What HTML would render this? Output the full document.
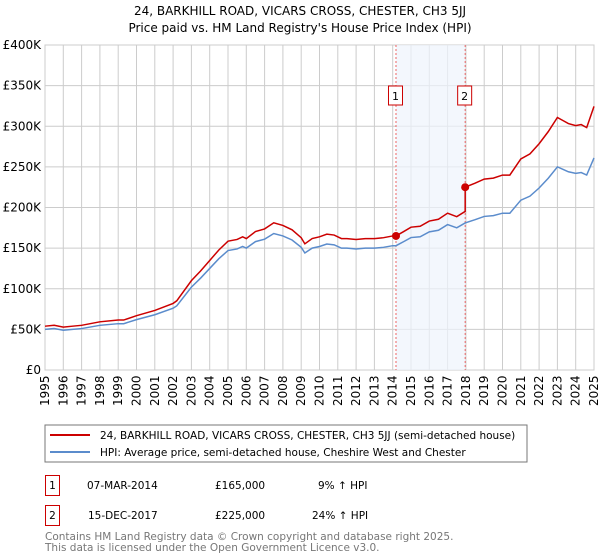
<!DOCTYPE html>
<html><head><meta charset="utf-8"><style>
body{margin:0;background:#fff;}
svg{display:block;font-family:"DejaVu Sans","Liberation Sans",sans-serif;}
</style></head><body>
<svg id="c" width="600" height="560" viewBox="0 0 600 560">
<text x="300" y="15" text-anchor="middle" font-size="12">24, BARKHILL ROAD, VICARS CROSS, CHESTER, CH3 5JJ</text>
<text x="300" y="32" text-anchor="middle" font-size="12">Price paid vs. HM Land Registry's House Price Index (HPI)</text>
<g id="grid"></g><g id="band"></g><g id="series"></g><g id="ticks"></g>
<rect x="45" y="425" width="482" height="37" fill="none" stroke="#777"/>
<line x1="50" y1="435" x2="90" y2="435" stroke="#cc0000" stroke-width="2"/>
<text x="100" y="439" font-size="10.5">24, BARKHILL ROAD, VICARS CROSS, CHESTER, CH3 5JJ (semi-detached house)</text>
<line x1="50" y1="452" x2="90" y2="452" stroke="#5b8ccc" stroke-width="2"/>
<text x="100" y="456" font-size="10.5">HPI: Average price, semi-detached house, Cheshire West and Chester</text>
<g>
<rect x="45.5" y="475.5" width="14" height="20" fill="#fff" stroke="#cc0000"/>
<text x="52.5" y="489" font-size="10.5" text-anchor="middle">1</text>
<text x="87" y="489" font-size="10.5">07-MAR-2014</text>
<text x="215" y="489" font-size="10.5">£165,000</text>
<text x="318" y="489" font-size="10.5">9% ↑ HPI</text></g>
<g>
<rect x="45.5" y="505.5" width="14" height="20" fill="#fff" stroke="#cc0000"/>
<text x="52.5" y="519" font-size="10.5" text-anchor="middle">2</text>
<text x="88" y="519" font-size="10.5">15-DEC-2017</text>
<text x="215" y="519" font-size="10.5">£225,000</text>
<text x="312" y="519" font-size="10.5">24% ↑ HPI</text></g>
<text x="45" y="540" font-size="10.5" fill="#777">Contains HM Land Registry data © Crown copyright and database right 2025.</text>
<text x="45" y="551" font-size="10.5" fill="#777">This data is licensed under the Open Government Licence v3.0.</text>
</svg>
<script>
const hpiYears=[1995,1995.5,1996,1996.5,1997,1998,1999,1999.3,2000,2001,2002,2002.2,2003,2003.5,2004,2004.5,2005,2005.5,2005.8,2006,2006.5,2007,2007.5,2008,2008.5,2009,2009.2,2009.6,2010,2010.4,2010.8,2011.2,2011.5,2012,2012.5,2013,2013.5,2014,2014.18,2014.6,2015,2015.5,2016,2016.5,2017,2017.5,2017.96,2018.5,2019,2019.5,2020,2020.4,2021,2021.5,2022,2022.5,2023,2023.3,2023.6,2024,2024.3,2024.6,2025];
const hpiValues=[50000,51000,49000,50000,51000,55000,57000,57000,62000,68000,76000,79000,102000,113000,125000,137000,147000,149000,152000,150000,158000,161000,168000,165000,160000,151000,144000,150000,152000,155000,154000,150000,150000,149000,150000,150000,151000,153000,153000,158000,163000,164000,170000,172000,179000,175000,181000,185000,189000,190000,193000,193000,209000,214000,224000,236000,250000,247000,244000,242000,243000,240000,261000];
const saleYears=[2014.18,2017.96];
const salePrices=[165000,225000];
const saleLabels=["1","2"];
const yTicks=[0,50000,100000,150000,200000,250000,300000,350000,400000];
const yTickLabels=["£0","£50K","£100K","£150K","£200K","£250K","£300K","£350K","£400K"];
const xTicks=[1995,1996,1997,1998,1999,2000,2001,2002,2003,2004,2005,2006,2007,2008,2009,2010,2011,2012,2013,2014,2015,2016,2017,2018,2019,2020,2021,2022,2023,2024,2025];
const NS="http://www.w3.org/2000/svg";
const X0=45,X1=594,Y0=370,Y1=45;
const sx=y=>X0+(y-1995)/30*(X1-X0);
const sy=v=>Y0-v/400000*(Y0-Y1);
function mk(tag,attrs,parent){const e=document.createElementNS(NS,tag);for(const k in attrs)e.setAttribute(k,attrs[k]);parent.appendChild(e);return e;}
const grid=document.getElementById('grid'),band=document.getElementById('band'),ser=document.getElementById('series'),ticks=document.getElementById('ticks');
mk('rect',{x:X0,y:Y1,width:X1-X0,height:Y0-Y1,fill:'#fff',stroke:'#ccc'},grid);
yTicks.forEach((v,i)=>{
const l=mk('line',{x1:X0,x2:X1,y1:sy(v),y2:sy(v),stroke:'#ccc'},grid);


const t=mk('text',{x:X0-4,y:sy(v)+4,'text-anchor':'end','font-size':'12'},ticks);
t.textContent=yTickLabels[i];


});
xTicks.forEach(yr=>{
const l=mk('line',{x1:sx(yr),x2:sx(yr),y1:Y1,y2:Y0,stroke:'#ccc'},grid);


const t=mk('text',{transform:`translate(${sx(yr)+4},${Y0+36}) rotate(-90)`,'font-size':'12'},ticks);
t.textContent=yr;


});
function hpiAt(y){for(let i=0;i<hpiYears.length-1;i++){if(y>=hpiYears[i]&&y<=hpiYears[i+1]){const f=(y-hpiYears[i])/(hpiYears[i+1]-hpiYears[i]);return hpiValues[i]+f*(hpiValues[i+1]-hpiValues[i]);}}return hpiValues[hpiValues.length-1];}
const b=mk('rect',{x:sx(saleYears[0]),y:Y1,width:sx(saleYears[1])-sx(saleYears[0]),height:Y0-Y1,fill:'#eef3fc',opacity:0.7},band);


saleYears.forEach((yr,i)=>{
const l=mk('line',{x1:sx(yr),x2:sx(yr),y1:Y1,y2:Y0,stroke:'#e66','stroke-dasharray':'2,2'},band);


const r=mk('rect',{x:sx(yr)-7.5,y:86,width:14,height:19,fill:'#fff',stroke:'#cc0000'},band);


const t=mk('text',{x:sx(yr)-0.5,y:100,'text-anchor':'middle','font-size':'11'},band);
t.textContent=saleLabels[i];


});
const hp=hpiYears.map((y,i)=>`${sx(y)},${sy(hpiValues[i])}`).join(' ');
const hl=mk('polyline',{points:hp,fill:'none',stroke:'#5b8ccc','stroke-width':1.5},ser);


const r1=salePrices[0]/hpiAt(saleYears[0]),r2=salePrices[1]/hpiAt(saleYears[1]);
const pts=[];
hpiYears.forEach((y,i)=>{if(y<saleYears[1])pts.push([y,hpiValues[i]*r1]);});
pts.push([saleYears[1],hpiAt(saleYears[1])*r1]);
pts.push([saleYears[1],salePrices[1]]);
hpiYears.forEach((y,i)=>{if(y>saleYears[1])pts.push([y,hpiValues[i]*r2]);});
const pl=mk('polyline',{points:pts.map(p=>`${sx(p[0])},${sy(p[1])}`).join(' '),fill:'none',stroke:'#cc0000','stroke-width':1.5},ser);


saleYears.forEach((yr,i)=>{
const c=mk('circle',{cx:sx(yr),cy:sy(salePrices[i]),r:4,fill:'#cc0000'},ser);


});
</script>
</body></html>
